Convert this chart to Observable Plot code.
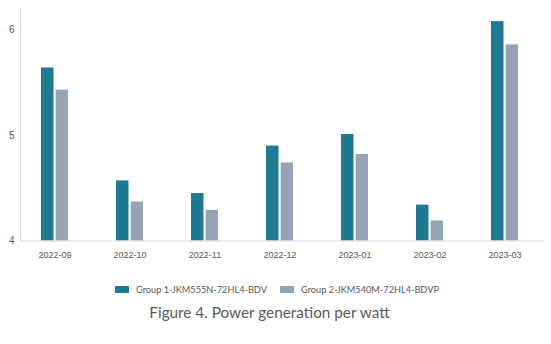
<!DOCTYPE html>
<html>
<head>
<meta charset="utf-8">
<script src="https://cdn.jsdelivr.net/npm/d3@7"></script>
<script src="https://cdn.jsdelivr.net/npm/@observablehq/plot@0.6"></script>
<style>
  html, body { margin: 0; padding: 0; background: #fff; }
  #wrap { position: relative; width: 551px; height: 344px; overflow: hidden; }
  #chart { position: absolute; left: 0; top: 0; }
  #legend { position: absolute; left: 0; top: 282px; width: 551px; height: 16px;
            font-family: Lato, "Open Sans", sans-serif; font-size: 9.2px; color: #595959; }
  .item { position: absolute; top: 0; white-space: nowrap; line-height: 15px; }
  .sw { display: inline-block; width: 14px; height: 7px; margin-right: 7px; vertical-align: 0px; }
  #caption { position: absolute; left: 0; top: 303px; width: 539px; text-align: center;
             font-family: Lato, "Open Sans", sans-serif; font-size: 15.3px; color: #5a5a5a; }
</style>
</head>
<body>
<div id="wrap">
  <div id="chart"></div>
  <div id="legend"></div>
  <div id="caption">Figure 4. Power generation per watt</div>
</div>
<script>
const months = ["2022-09", "2022-10", "2022-11", "2022-12", "2023-01", "2023-02", "2023-03"];
const group1 = [5.64, 4.57, 4.45, 4.90, 5.01, 4.34, 6.08];
const group2 = [5.43, 4.37, 4.29, 4.74, 4.82, 4.19, 5.86];
const seriesNames = ["Group 1-JKM555N-72HL4-BDV", "Group 2-JKM540M-72HL4-BDVP"];
const seriesColors = ["#217a93", "#94a4b4"];
const yTicks = [4, 5, 6];

const d1 = months.map((m, i) => ({month: m, value: group1[i]}));
const d2 = months.map((m, i) => ({month: m, value: group2[i]}));

const plot = Plot.plot({
  width: 551,
  height: 270,
  marginLeft: 20,
  marginRight: 8,
  marginTop: 8,
  marginBottom: 29.5,
  style: {fontFamily: "'Liberation Sans', Arial, sans-serif", fontSize: "9px", color: "#595959", background: "#fff"},
  x: {domain: months, range: [17, 542], paddingInner: 0.64, paddingOuter: 0.32, label: null},
  y: {domain: [4, 6.204], label: null},
  marks: [
    Plot.barY(d1, {x: "month", y1: 4, y2: "value", fill: seriesColors[0], insetLeft: 0, insetRight: 14.5}),
    Plot.barY(d2, {x: "month", y1: 4, y2: "value", fill: seriesColors[1], insetLeft: 14.7, insetRight: 0}),
    Plot.frame({anchor: "left", stroke: "#d9d9d9"}),
    Plot.frame({anchor: "bottom", stroke: "#d9d9d9"}),
    Plot.axisY({ticks: yTicks, tickSize: 0, tickPadding: 6, tickFormat: d3.format("d"), fill: "#595959", fontSize: 10, label: null}),
    Plot.axisX({tickSize: 0, tickPadding: 11, fill: "#595959", fontSize: 9, label: null})
  ]
});
document.getElementById("chart").appendChild(plot);

const legend = document.getElementById("legend");
const lefts = [115, 280];
seriesNames.forEach((name, i) => {
  const it = document.createElement("div");
  it.className = "item";
  it.style.left = lefts[i] + "px";
  it.innerHTML = `<span class="sw" style="background:${seriesColors[i]}"></span>${name}`;
  legend.appendChild(it);
});
</script>
</body>
</html>
